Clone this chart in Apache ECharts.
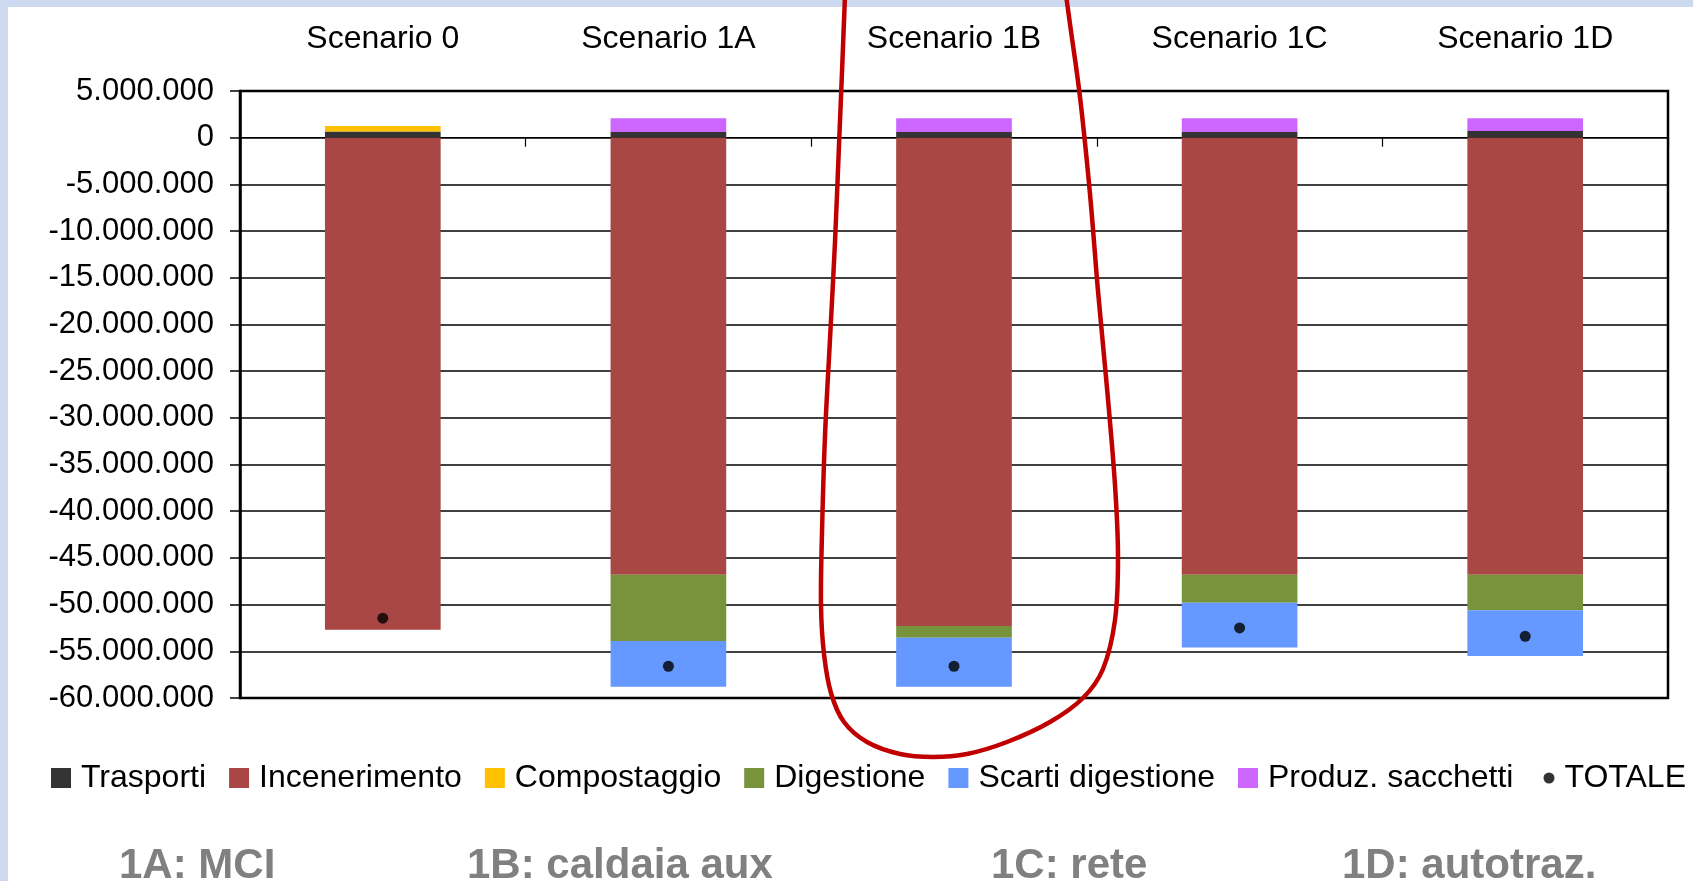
<!DOCTYPE html>
<html>
<head>
<meta charset="utf-8">
<script src="https://cdn.jsdelivr.net/npm/echarts@6/dist/echarts.min.js"></script>
<style>
html,body{margin:0;padding:0;background:#cdd9ee;}
#c{width:1693px;height:881px;}
</style>
</head>
<body>
<div id="c"></div>
<script>
const categories = ['Scenario 0', 'Scenario 1A', 'Scenario 1B', 'Scenario 1C', 'Scenario 1D'];
const trasporti = [650000, 620000, 620000, 620000, 720000];
const incenerimento = [-52700000, -46800000, -52300000, -46800000, -46800000];
const compostaggio = [600000, 0, 0, 0, 0];
const digestione = [0, -7100000, -1250000, -3000000, -3800000];
const scartiDigestione = [0, -4900000, -5250000, -4800000, -4900000];
const produzSacchetti = [0, 1450000, 1450000, 1450000, 1350000];
const totale = [-51450000, -56600000, -56600000, -52500000, -53400000];
const yTicks = { min: -60000000, max: 5000000, interval: 5000000 };
const bottomNotes = ['1A: MCI', '1B: caldaia aux', '1C: rete', '1D: autotraz.'];

const FONT = "'Liberation Sans', Arial, sans-serif";
const fmt = v => {
  const s = String(Math.abs(Math.round(v))).replace(/\B(?=(\d{3})+(?!\d))/g, '.');
  return (v < 0 ? '-' : '') + s;
};

const barSeries = [
  ['Trasporti', trasporti, '#333333'],
  ['Incenerimento', incenerimento, '#a94744'],
  ['Compostaggio', compostaggio, '#ffc000'],
  ['Digestione', digestione, '#77933c'],
  ['Scarti digestione', scartiDigestione, '#6699ff'],
  ['Produz. sacchetti', produzSacchetti, '#cc66ff']
].map(([name, data, color]) => ({
  name, type: 'bar', stack: 'tot', data, barWidth: '40.5%',
  itemStyle: { color }, xAxisIndex: 0, yAxisIndex: 0
}));

const loopPts = [
  [845, -5], [842, 72], [839, 145], [835, 242], [830, 339], [825, 436], [822, 533],
  [821, 606], [824, 654], [831, 693], [844, 722], [867, 742], [900, 754], [933, 757],
  [967, 754], [1007, 742], [1050, 722], [1083, 698], [1103, 669], [1115, 620],
  [1118, 557], [1115, 485], [1107, 388], [1098, 291], [1090, 194], [1080, 97],
  [1070, 24], [1066, -5]
];

const noteX = [119, 467, 991, 1342];

const chart = echarts.init(document.getElementById('c'));
chart.setOption({
  animation: false,
  backgroundColor: '#cdd9ee',
  textStyle: { fontFamily: FONT },
  grid: { left: 240, right: 25, top: 91, bottom: 183, show: true, borderColor: '#000', borderWidth: 2.5, backgroundColor: 'transparent' },
  legend: [
    {
      data: barSeries.map(s => ({ name: s.name, icon: 'rect' })),
      left: 46, top: 757, itemWidth: 20, itemHeight: 20, itemGap: 23,
      textStyle: { fontSize: 32, color: '#000', fontFamily: FONT, padding: [0, 0, 0, 5] }
    },
    {
      data: [{ name: 'TOTALE', icon: 'circle' }],
      right: 2, top: 757, itemWidth: 11, itemHeight: 11,
      textStyle: { fontSize: 32, color: '#000', fontFamily: FONT, padding: [0, 0, 0, 5] }
    }
  ],
  xAxis: [
    {
      type: 'category', data: categories, position: 'top',
      axisLine: { show: false, onZero: false }, axisTick: { show: false },
      axisLabel: { fontSize: 32, color: '#000', margin: 36, interval: 0, fontFamily: FONT }
    },
    {
      type: 'category', data: categories, position: 'bottom',
      axisLine: { show: true, onZero: true, lineStyle: { color: '#000', width: 1.2 } },
      axisTick: { show: true, length: 9, lineStyle: { color: '#000', width: 1.2 } },
      axisLabel: { show: false }
    }
  ],
  yAxis: {
    type: 'value', min: yTicks.min, max: yTicks.max, interval: yTicks.interval,
    axisLine: { show: true, onZero: false, lineStyle: { color: '#000', width: 2.5 } },
    axisTick: { show: true, length: 10, lineStyle: { color: '#000', width: 1.5 } },
    splitLine: { show: true, lineStyle: { color: '#000', width: 1.5 } },
    axisLabel: { fontSize: 31, color: '#000', margin: 26, formatter: fmt, fontFamily: FONT }
  },
  series: barSeries.concat([{
    name: 'TOTALE', type: 'scatter', data: totale, symbol: 'circle', symbolSize: 11,
    itemStyle: { color: '#000' }, xAxisIndex: 0, yAxisIndex: 0, z: 5
  }]),
  graphic: [
    { type: 'rect', z: -100, shape: { x: 8, y: 7, width: 1700, height: 880 }, style: { fill: '#ffffff' } },
    { type: 'polyline', z: 100, shape: { points: loopPts, smooth: 0.35 }, style: { stroke: '#c00000', lineWidth: 4.5, fill: null } }
  ].concat(bottomNotes.map((t, i) => ({
    type: 'text', z: 100, left: noteX[i], top: 845,
    style: { text: t, font: "bold 42px " + FONT, fill: '#808080' }
  })))
});
</script>
</body>
</html>
